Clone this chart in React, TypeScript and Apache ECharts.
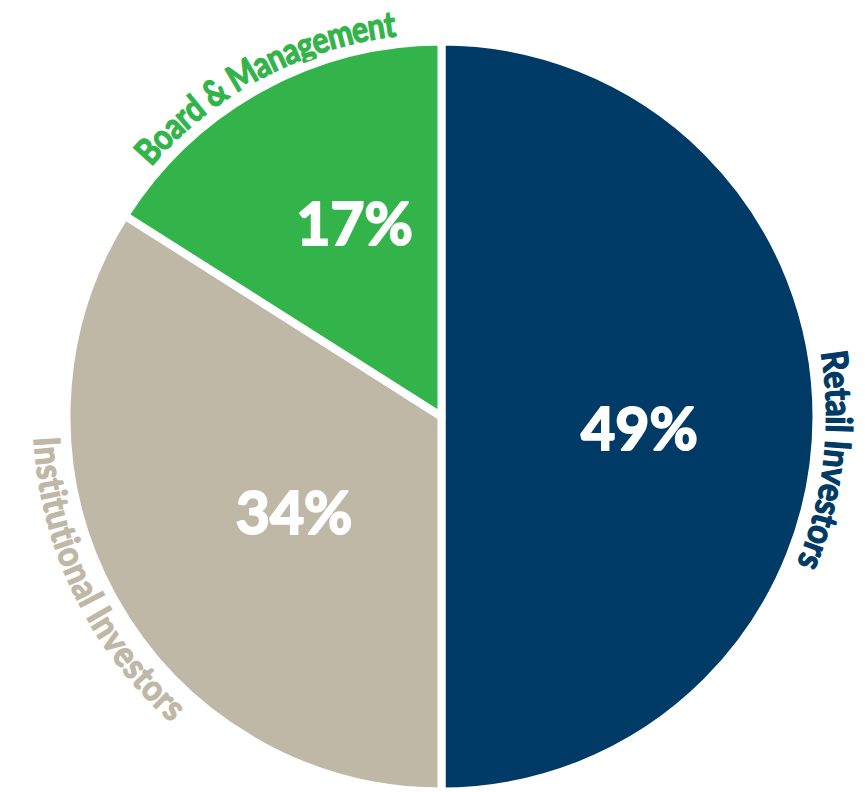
import React, { useEffect, useRef } from "react";
import * as echarts from "echarts";

// ---- data ----
const categories = ["Retail Investors", "Institutional Investors", "Board & Management"];
const shareValues = [50, 34, 16]; // slice sizes as drawn
const shareLabels = ["49%", "34%", "17%"]; // printed values

// ---- styles / layout ----
const COLORS = ["#003a66", "#bfb8a6", "#33b44a"];
const CX = 441.5;
const CY = 416.5;
const R = 375;
const BORDER = 8;
const FONT = "Lato";
const WEIGHT = "bold";
const NAME_SIZE = 36;
const NAME_LAYOUT = [
  { shift: 6.5, r: 399, arc: 223, facing: "out" },
  { shift: 3, r: 394, arc: 314, facing: "in" },
  { shift: 0.8, r: 397, arc: 295, facing: "out" },
];
const PCT_OFFSET = [
  [7.5, 10.5],
  [19.5, 3.5],
  [4.8, -27.2],
];

function measureWidths(text: string, font: string): number[] {
  const c = document.createElement("canvas");
  const ctx = c.getContext("2d")!;
  ctx.font = font;
  return Array.from(text).map((ch) => ctx.measureText(ch).width);
}

function buildCurvedLabels() {
  const total = shareValues.reduce((a, b) => a + b, 0);
  let cum = 0;
  const elements: any[] = [];
  categories.forEach((name, i) => {
    const startDeg = (cum / total) * 360;
    cum += shareValues[i];
    const endDeg = (cum / total) * 360;
    const lay = NAME_LAYOUT[i];
    const midRad = (((startDeg + endDeg) / 2 + lay.shift) * Math.PI) / 180;
    const chars = Array.from(name);
    const widths = measureWidths(name, `${WEIGHT} ${NAME_SIZE}px ${FONT}`);
    const natural = widths.reduce((a, b) => a + b, 0);
    const scale = lay.arc / natural;
    const span = lay.arc / lay.r;
    let run = 0;
    chars.forEach((ch, k) => {
      const c = (run + widths[k] / 2) * scale;
      run += widths[k];
      let theta: number;
      let rot: number;
      if (lay.facing === "out") {
        theta = midRad - span / 2 + c / lay.r;
        rot = -theta;
      } else {
        theta = midRad + span / 2 - c / lay.r;
        rot = Math.PI - theta;
      }
      if (ch === " ") return;
      elements.push({
        type: "text",
        x: CX + lay.r * Math.sin(theta),
        y: CY - lay.r * Math.cos(theta),
        rotation: rot,
        scaleX: scale,
        silent: true,
        style: {
          text: ch,
          fill: COLORS[i],
          stroke: COLORS[i],
          lineWidth: 1.3,
          fontFamily: FONT,
          fontWeight: WEIGHT,
          fontSize: NAME_SIZE,
          lineHeight: NAME_SIZE,
          align: "center",
          verticalAlign: "middle",
        },
      });
    });
  });
  return elements;
}

export default function App() {
  const ref = useRef<HTMLDivElement>(null);
  useEffect(() => {
    if (!ref.current) return;
    const chart = echarts.init(ref.current, null, { renderer: "svg" });
    chart.setOption({
      animation: false,
      backgroundColor: "#ffffff",
      series: [
        {
          type: "pie",
          center: [CX, CY],
          radius: R,
          startAngle: 90,
          clockwise: true,
          silent: true,
          avoidLabelOverlap: false,
          data: categories.map((n, i) => ({
            name: n,
            value: shareValues[i],
            itemStyle: { color: COLORS[i] },
          })),
          itemStyle: { borderColor: "#ffffff", borderWidth: BORDER },
          label: {
            show: true,
            position: "inside",
            formatter: (p: any) => shareLabels[p.dataIndex],
            color: "#ffffff",
            textBorderColor: "#ffffff",
            textBorderWidth: 2,
            fontFamily: FONT,
            fontWeight: WEIGHT,
            fontSize: 59,
          },
          labelLine: { show: false },
          labelLayout: (p: any) => ({
            dx: PCT_OFFSET[p.dataIndex][0],
            dy: PCT_OFFSET[p.dataIndex][1],
          }),
          emphasis: { disabled: true },
        },
      ],
      graphic: buildCurvedLabels(),
    });
    return () => chart.dispose();
  }, []);
  return (
    <div
      ref={ref}
      style={{ position: "absolute", left: 0, top: 0, width: 865, height: 792 }}
    />
  );
}
